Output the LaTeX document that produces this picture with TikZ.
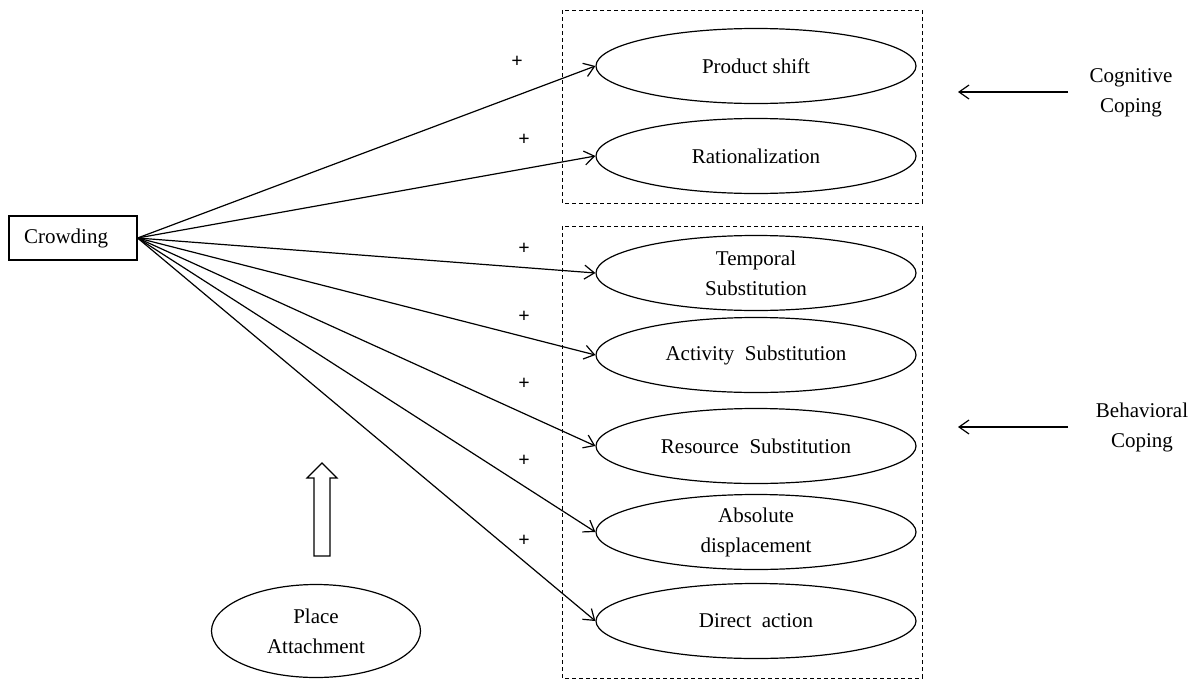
\documentclass[tikz,border=0pt]{standalone}
\usepackage{fontspec}
\setmainfont{Liberation Serif}
\usetikzlibrary{arrows.meta,shapes.geometric}
\begin{document}
\begin{tikzpicture}[x=1pt,y=-1pt,
  every node/.style={font=\fontsize{21}{30}\selectfont},
  oval/.style={draw, ellipse, minimum width=320pt, minimum height=75pt, inner sep=0pt, line width=1.2pt, align=center},
  conn/.style={-{Straight Barb[length=10pt,width=14pt]}, line width=1.2pt},
  group/.style={draw, dash pattern=on 4pt off 3pt, line width=1pt},
  plus/.style={font=\fontsize{20}{20}\selectfont\bfseries, inner sep=0pt},
  lbl/.style={align=center, inner sep=0pt}
]
\useasboundingbox (0,0) rectangle (1199,680);

% dashed groups
\draw[group] (562,10) rectangle (922,203);
\draw[group] (562,226) rectangle (922,678);

% source
\node[draw, line width=1.2pt, minimum width=128pt, minimum height=44pt, inner sep=0pt] (crowd) at (73,238) {Crowding\kern14pt};

% coping strategies
\node[oval] (ps) at (756,66) {Product shift};
\node[oval] (ra) at (756,156) {Rationalization};
\node[oval] (ts) at (756,273) {Temporal\\Substitution};
\node[oval] (as) at (756,355) {Activity~~Substitution};
\node[oval] (rs) at (756,446) {Resource~~Substitution};
\node[oval] (ad) at (756,532) {Absolute\\displacement};
\node[oval] (da) at (756,621) {Direct~~action};

% connectors
\foreach \t in {ps,ra,ts,as,rs,ad,da}
  \draw[conn] (crowd.east) -- (\t.west);

% plus signs
\node[plus] (p1) at (517,62) {+};
\node[plus] (p2) at (524,140) {+};
\node[plus] (p3) at (524,249) {+};
\node[plus] (p4) at (524,317) {+};
\node[plus] (p5) at (524,384) {+};
\node[plus] (p6) at (524,461) {+};
\node[plus] (p7) at (524,541) {+};

% group labels
\node[lbl] (cog) at (1131,93) {Cognitive\\Coping};
\node[lbl] (beh) at (1142,427) {Behavioral\\Coping};
\coordinate (c1s) at (1068,92);
\coordinate (c1e) at (958,92);
\coordinate (c2s) at (1068,427);
\coordinate (c2e) at (958,427);
\draw[conn] (c1s) -- (c1e);
\draw[conn] (c2s) -- (c2e);

% place attachment
\node[draw, ellipse, minimum width=209pt, minimum height=93pt, inner sep=0pt, line width=1.2pt, align=center] (pa) at (316,631) {Place\\Attachment};

% hollow arrow
\draw[line width=1.2pt, line join=miter] (314,556) -- (314,478) -- (307,478) -- (322,463) -- (337,478) -- (330,478) -- (330,556) -- cycle;
\end{tikzpicture}
\end{document}
